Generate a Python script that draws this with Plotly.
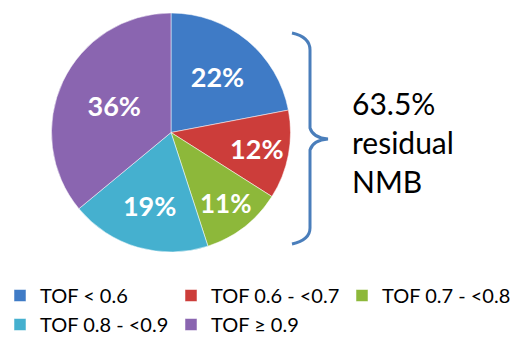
import plotly.graph_objects as go

# Share of patients by train-of-four (TOF) ratio at extubation
categories = ["TOF < 0.6", "TOF 0.6 - <0.7", "TOF 0.7 - <0.8", "TOF 0.8 - <0.9", "TOF \u2265 0.9"]
shares = [22, 12, 11, 19, 36]
colors = ["#3f7bc6", "#cc3d3a", "#8db83a", "#45b0cf", "#8a65b0"]
residual_note = "63.5%<br>residual<br>NMB"

W, H = 522, 339
FONT = "Lato"


def px(x, y):
    """Convert pixel position (from top-left) to paper coordinates."""
    return x / W, 1 - y / H


fig = go.Figure(
    go.Pie(
        labels=categories,
        values=shares,
        sort=False,
        direction="clockwise",
        rotation=0,
        marker=dict(colors=colors, line=dict(color="rgba(255,255,255,0.5)", width=1)),
        texttemplate="%{value}%",
        textposition="inside",
        insidetextorientation="horizontal",
        textfont=dict(family=FONT, size=27, color="white", weight="bold"),
        hoverinfo="label+percent",
        domain=dict(x=[47 / W, 295 / W], y=[1 - 252 / H, 1 - 13 / H]),
    )
)

# Curly bracket grouping the slices below TOF 0.9
pts = [(292, 33), (310, 37), (310, 50), (310, 128), (313, 138), (328, 139),
       (313, 140), (310, 150), (310, 228), (310, 240), (292, 244)]
p = [px(*q) for q in pts]
path = (f"M {p[0][0]},{p[0][1]} Q {p[1][0]},{p[1][1]} {p[2][0]},{p[2][1]} "
        f"L {p[3][0]},{p[3][1]} Q {p[4][0]},{p[4][1]} {p[5][0]},{p[5][1]} "
        f"Q {p[6][0]},{p[6][1]} {p[7][0]},{p[7][1]} "
        f"L {p[8][0]},{p[8][1]} Q {p[9][0]},{p[9][1]} {p[10][0]},{p[10][1]}")
fig.add_shape(type="path", xref="paper", yref="paper", path=path,
              line=dict(color="#4a7ebb", width=3))

ax, ay = px(350, 142)
fig.add_annotation(
    x=ax, y=ay, xref="paper", yref="paper", xanchor="left", yanchor="middle",
    text=residual_note, showarrow=False, align="left",
    font=dict(family=FONT, size=30, color="black"),
)

lx, ly = px(0, 276)
fig.update_layout(
    width=W, height=H,
    margin=dict(l=0, r=0, t=0, b=0, autoexpand=False),
    paper_bgcolor="white", plot_bgcolor="white",
    showlegend=True,
    legend=dict(
        orientation="h", x=lx, y=ly, xanchor="left", yanchor="top",
        entrywidth=126, entrywidthmode="pixels",
        font=dict(family=FONT, size=20, color="black"),
        itemclick=False, itemdoubleclick=False, traceorder="normal",
    ),
)

fig.write_html("out.html")
